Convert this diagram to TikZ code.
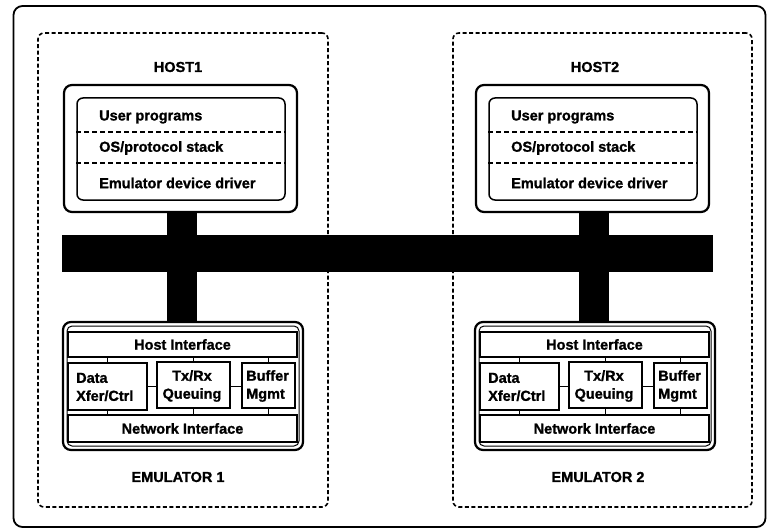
\documentclass[tikz,border=0pt]{standalone}
\usepackage{fontspec}
\setmainfont{Liberation Sans}[BoldFeatures={FakeBold=1.2}]
\begin{document}
\begin{tikzpicture}[x=1pt,y=-1pt,
  frame/.style={draw, line width=1.8pt, rounded corners=9pt, minimum width=752pt, minimum height=521pt, inner sep=0pt},
  zone/.style={draw, line width=1.6pt, dash pattern=on 4pt off 2.5pt, rounded corners=6pt, inner sep=0pt, minimum height=474pt},
  hbox/.style={draw, line width=2.2pt, rounded corners=8pt, inner sep=0pt},
  ibox/.style={draw, line width=1.5pt, rounded corners=6pt, inner sep=0pt},
  cell/.style={draw, line width=1.4pt, inner sep=0pt},
  sep/.style={line width=1.5pt, dash pattern=on 5pt off 3pt},
  txt/.style={font=\bfseries\fontsize{14.5}{18}\selectfont, inner sep=0pt},
  link/.style={line width=1.1pt},
  stemline/.style={line width=30pt},
  bar/.style={fill=black, draw=none, inner sep=0pt}
]
\useasboundingbox (0,0) rectangle (771,532);
\node[frame] (frame) at (389.5,266.5) {};
\node[zone, minimum width=290pt] (zone1) at (183,270) {};
\node[zone, minimum width=299pt] (zone2) at (602.5,270) {};
\node[bar, minimum width=651pt, minimum height=37pt] (bus) at (387.5,253.5) {};
\node[txt] (lh1) at (178,67) {HOST1};
\node[txt] (lh2) at (595,67) {HOST2};
\node[txt] (le1) at (178,477) {EMULATOR 1};
\node[txt] (le2) at (598,477) {EMULATOR 2};

\newcommand{\myunit}[2]{%
\begin{scope}[xshift=#1pt]
 % host
 \node[hbox, minimum width=233pt, minimum height=127pt] (hout#2) at (180.5,148.5) {};
 \node[ibox, minimum width=208pt, minimum height=102pt] (hin#2) at (181,149) {};
 \node[txt, anchor=west] (up#2) at (99,117) {User programs};
 \node[txt, anchor=west] (os#2) at (99,148) {OS/protocol stack};
 \node[txt, anchor=west] (ed#2) at (99,183) {Emulator device driver};
 \draw[sep] (hin#2.west |- 0,132) -- (hin#2.east |- 0,132);
 \draw[sep] (hin#2.west |- 0,163) -- (hin#2.east |- 0,163);
 % emulator
 \node[hbox, minimum width=240pt, minimum height=128pt] (eout#2) at (183,386) {};
 \node[ibox, rounded corners=5pt, line width=1pt, minimum width=232pt, minimum height=120pt] (ein#2) at (183,386) {};
 \node[cell, minimum width=229pt, minimum height=25pt, txt] (hif#2) at (182.5,344.5) {Host Interface};
 \node[cell, minimum width=79pt, minimum height=47pt] (data#2) at (107.5,386.5) {};
 \node[txt, anchor=west, align=left] at (76,387) {Data\\Xfer/Ctrl};
 \node[cell, minimum width=73pt, minimum height=46pt] (tx#2) at (193.5,385) {};
 \node[txt, align=center] at (192,386) {Tx/Rx\\Queuing};
 \node[cell, minimum width=53pt, minimum height=45pt] (buf#2) at (268.5,385.5) {};
 \node[txt, anchor=west, align=left] at (246,386) {Buffer\\Mgmt};
 \node[cell, minimum width=229pt, minimum height=27pt, txt] (nif#2) at (182.5,428.5) {Network Interface};
 \draw[link] (hif#2.south -| data#2.north) -- (data#2.north);
 \draw[link] (hif#2.south -| tx#2.north) -- (tx#2.north);
 \draw[link] (hif#2.south -| buf#2.north) -- (buf#2.north);
 \draw[link] (nif#2.north -| data#2.south) -- (data#2.south);
 \draw[link] (nif#2.north -| tx#2.south) -- (tx#2.south);
 \draw[link] (nif#2.north -| buf#2.south) -- (buf#2.south);
 \draw[link] (data#2.east) -- (data#2.east -| tx#2.west);
 \draw[link] (tx#2.east |- data#2.east) -- (buf#2.west |- data#2.east);
 % stems
 \draw[stemline] (hout#2.south -| 182,0) -- (bus.north -| 182,0);
 \draw[stemline] (bus.south -| 182,0) -- (eout#2.north -| 182,0);
\end{scope}}
\myunit{0}{1}
\myunit{412}{2}
\end{tikzpicture}
\end{document}
